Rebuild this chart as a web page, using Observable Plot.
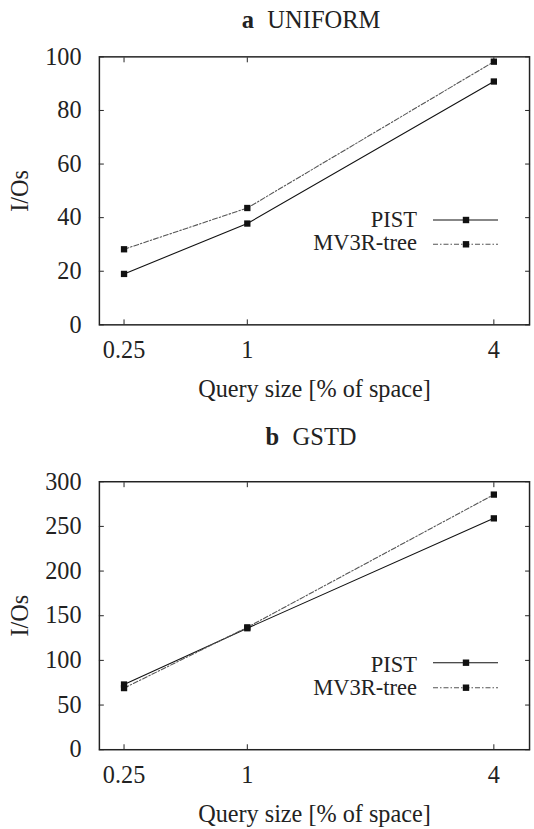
<!DOCTYPE html>
<html>
<head>
<meta charset="utf-8">
<script src="https://cdn.jsdelivr.net/npm/d3@7"></script>
<script src="https://cdn.jsdelivr.net/npm/@observablehq/plot@0.6"></script>
<style>
  html, body { margin: 0; padding: 0; background: #fff; overflow: hidden; }
  #root { position: relative; width: 534px; height: 829px; overflow: hidden; font-family: "Liberation Serif", "Times New Roman", Times, serif; color: #222; }
  .panel { position: absolute; left: 0; }
  #overlay { position: absolute; left: 0; top: 0; pointer-events: none; }
  svg text { font-family: "Liberation Serif", "Times New Roman", Times, serif; }
</style>
</head>
<body>
<div id="root">
  <div class="panel" id="pa" style="top:0px"></div>
  <div class="panel" id="pb" style="top:414px"></div>
  <svg id="overlay" width="534" height="829"></svg>
</div>
<script>
// ---- data ----
const querySizes = [0.25, 1, 4];
const seriesNames = ["PIST", "MV3R-tree"];
const uniformPIST = [19.0, 37.8, 90.8];
const uniformMV3R = [28.2, 43.6, 98.2];
const gstdPIST = [73, 136, 259];
const gstdMV3R = [69, 137, 285.6];
const uniformYTicks = [0, 20, 40, 60, 80, 100];
const gstdYTicks = [0, 50, 100, 150, 200, 250, 300];
const panelTitles = [["a", "UNIFORM"], ["b", "GSTD"]];
const xLabel = "Query size [% of space]";
const yLabel = "I/Os";

const FONT = "'Liberation Serif', 'Times New Roman', Times, serif";
const FS = 24.5;
const LEGEND_FS = 22.5;

function rows(pist, mv3r) {
  const out = [];
  querySizes.forEach((x, i) => {
    out.push({x, y: pist[i], s: seriesNames[0]});
    out.push({x, y: mv3r[i], s: seriesNames[1]});
  });
  return out;
}

function panel(pist, mv3r, yTicks, height, marginTop, marginBottom) {
  const data = rows(pist, mv3r);
  return Plot.plot({
    width: 540,
    height,
    marginLeft: 100,
    marginRight: 5,
    marginTop,
    marginBottom,
    style: {fontFamily: FONT, fontSize: FS + "px", color: "#222", background: "transparent", overflow: "visible"},
    x: {type: "sqrt", domain: [0.16, 4.6]},
    y: {domain: [yTicks[0], yTicks[yTicks.length - 1]]},
    marks: [
      Plot.axisX({anchor: "bottom", ticks: querySizes, tickFormat: d => String(d), tickSize: -5, tickPadding: 21,
                  label: xLabel, labelAnchor: "center", labelArrow: "none", labelOffset: 73, stroke: "#222"}),
      Plot.axisX({anchor: "top", ticks: querySizes, tickFormat: () => "", tickSize: -5, label: null, stroke: "#222"}),
      Plot.axisY({anchor: "left", ticks: yTicks, tickSize: -5, tickPadding: 23,
                  label: yLabel, labelAnchor: "center", labelArrow: "none", labelOffset: 90, stroke: "#222"}),
      Plot.axisY({anchor: "right", ticks: yTicks, tickFormat: () => "", tickSize: -5, label: null, stroke: "#222"}),
      Plot.frame({stroke: "#222", strokeWidth: 1.5}),
      Plot.line(data.filter(d => d.s === seriesNames[0]), {x: "x", y: "y", stroke: "#111", strokeWidth: 1.1}),
      Plot.line(data.filter(d => d.s === seriesNames[1]), {x: "x", y: "y", stroke: "#555", strokeWidth: 1.1, strokeDasharray: "5,2,1.5,2"}),
      Plot.dot(data, {x: "x", y: "y", symbol: "square", r: 3.6, fill: "#111", stroke: "none"})
    ]
  });
}

document.getElementById("pa").appendChild(panel(uniformPIST, uniformMV3R, uniformYTicks, 414, 57, 86));
document.getElementById("pb").appendChild(panel(gstdPIST, gstdMV3R, gstdYTicks, 415, 68, 76));

// ---- titles and legends (overlay) ----
const ov = d3.select("#overlay");
const titleBaselines = [28, 445];
panelTitles.forEach((t, i) => {
  const txt = ov.append("text").attr("x", 311).attr("y", titleBaselines[i]).attr("text-anchor", "middle")
    .attr("font-size", FS).attr("fill", "#222");
  txt.append("tspan").attr("font-weight", "bold").text(t[0]);
  txt.append("tspan").attr("dx", "0.55em").text(t[1]);
});

const legendRows = [
  [{text: 227, line: 220}, {text: 250, line: 244.3}],
  [{text: 671.7, line: 662.7}, {text: 695, line: 687.7}]
];
const legendStyles = [
  {stroke: "#111", dash: null},
  {stroke: "#555", dash: "5,2,1.5,2"}
];
legendRows.forEach(pr => {
  pr.forEach((r, j) => {
    ov.append("text").attr("x", 417).attr("y", r.text).attr("text-anchor", "end")
      .attr("font-size", LEGEND_FS).attr("fill", "#222").text(seriesNames[j]);
    const ln = ov.append("line").attr("x1", 433).attr("x2", 498).attr("y1", r.line).attr("y2", r.line)
      .attr("stroke", legendStyles[j].stroke).attr("stroke-width", 1.1);
    if (legendStyles[j].dash) ln.attr("stroke-dasharray", legendStyles[j].dash);
    ov.append("rect").attr("x", 466 - 3.2).attr("y", r.line - 3.2).attr("width", 6.4).attr("height", 6.4).attr("fill", "#111");
  });
});
</script>
</body>
</html>
